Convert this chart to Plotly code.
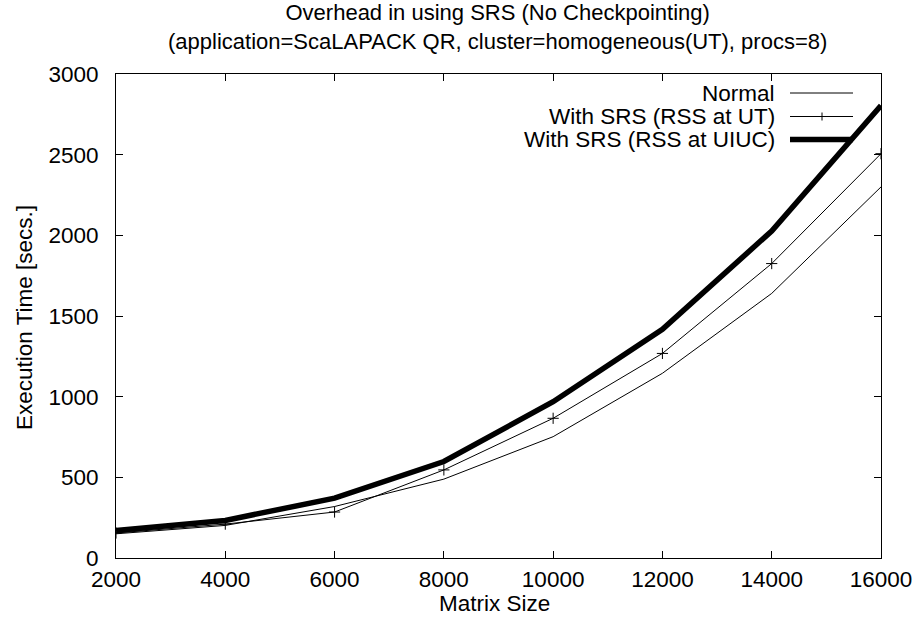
import plotly.graph_objects as go

matrix_size = [2000, 4000, 6000, 8000, 10000, 12000, 14000, 16000]
normal = [150, 202, 319, 489, 752, 1145, 1640, 2300]
srs_ut = [155, 210, 285, 546, 866, 1268, 1825, 2506]
srs_uiuc = [171, 233, 371, 598, 969, 1417, 2027, 2805]

series_names = ["Normal", "With SRS (RSS at UT)", "With SRS (RSS at UIUC)"]

FONT = "Liberation Sans, Arial, sans-serif"
FS = 22.5

fig = go.Figure()
fig.add_trace(go.Scatter(x=matrix_size, y=normal, mode="lines", name=series_names[0],
                         line=dict(color="black", width=1)))
fig.add_trace(go.Scatter(x=matrix_size, y=srs_ut, mode="lines+markers", name=series_names[1],
                         line=dict(color="black", width=1),
                         marker=dict(symbol="cross-thin", size=8, color="black",
                                     line=dict(color="black", width=1))))
fig.add_trace(go.Scatter(x=matrix_size, y=srs_uiuc, mode="lines", name=series_names[2],
                         line=dict(color="black", width=5.5)))

L, R, T, B = 116, 38, 74, 74
W, H = 919, 632
pw = W - L - R
ph = H - T - B

def px(x):
    return (x - L) / pw

def py(y):
    return (H - B - y) / ph

annotations = [
    dict(text="Overhead in using SRS (No Checkpointing)<br>"
              "(application=ScaLAPACK QR, cluster=homogeneous(UT), procs=8)",
         x=px(497), y=py(27), font=dict(family=FONT, size=22, color="black")),
    dict(text="Matrix Size", x=px(494), y=py(603)),
    dict(text="Execution Time [secs.]", x=px(24), y=py(318), textangle=-90),
]
for a in annotations:
    a.update(xref="paper", yref="paper", showarrow=False, xanchor="center", yanchor="middle")
    if "font" not in a:
        a["font"] = dict(family=FONT, size=FS, color="black")

# legend (gnuplot style: text right-aligned, key sample to the right)
rows_y = [93, 116.5, 139.5]
shapes = []
for i, name in enumerate(series_names):
    annotations.append(dict(text=name, x=px(777), y=py(rows_y[i]), xref="paper", yref="paper",
                            showarrow=False, xanchor="right", yanchor="middle",
                            font=dict(family=FONT, size=FS, color="black")))
    width = 5.5 if i == 2 else 1
    shapes.append(dict(type="line", xref="paper", yref="paper", x0=px(790), x1=px(853),
                       y0=py(rows_y[i]), y1=py(rows_y[i]), line=dict(color="black", width=width)))
# cross marker in legend
cx, cy = 822, rows_y[1]
shapes.append(dict(type="line", xref="paper", yref="paper", x0=px(cx - 4), x1=px(cx + 4),
                   y0=py(cy), y1=py(cy), line=dict(color="black", width=1)))
shapes.append(dict(type="line", xref="paper", yref="paper", x0=px(cx), x1=px(cx),
                   y0=py(cy - 4), y1=py(cy + 4), line=dict(color="black", width=1)))

axis_common = dict(showline=True, linecolor="black", linewidth=1, mirror="ticks",
                   ticks="inside", ticklen=7, tickcolor="black", tickwidth=1,
                   showgrid=False, zeroline=False, automargin=False,
                   tickfont=dict(family=FONT, size=FS, color="black"))

fig.update_layout(
    width=W, height=H,
    margin=dict(l=L, r=R, t=T, b=B),
    paper_bgcolor="white", plot_bgcolor="white",
    showlegend=False,
    xaxis=dict(range=[2000, 16000], tickvals=matrix_size, ticktext=[str(v) for v in matrix_size],
               ticklabelstandoff=1, **axis_common),
    yaxis=dict(range=[0, 3000], tickvals=[0, 500, 1000, 1500, 2000, 2500, 3000],
               ticklabelstandoff=12, **axis_common),
    annotations=annotations,
    shapes=shapes,
)

fig.write_html("out.html")
